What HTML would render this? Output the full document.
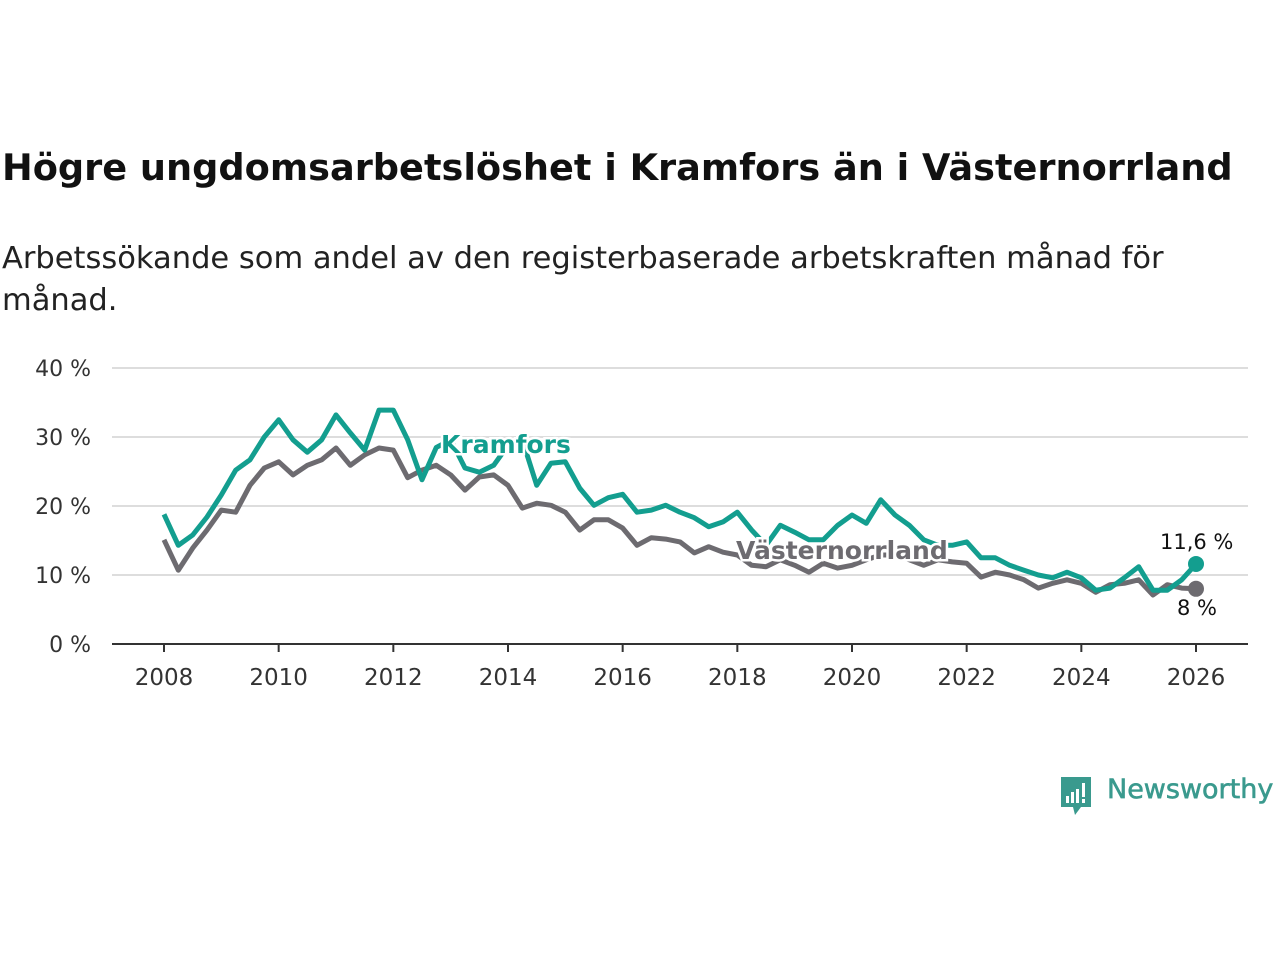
<!DOCTYPE html>
<html><head><meta charset="utf-8"><style>
body{margin:0;background:#fff;width:1280px;height:960px;overflow:hidden;font-family:"DejaVu Sans","Liberation Sans",sans-serif;}
h1{position:absolute;left:2px;top:146px;margin:0;font-size:36.7px;font-weight:bold;color:#111;white-space:nowrap;}
.sub{position:absolute;left:2px;top:238px;margin:0;font-size:30.5px;color:#222;line-height:42px;width:1200px;}
svg{position:absolute;left:0;top:0;}
</style></head><body>
<h1>Högre ungdomsarbetslöshet i Kramfors än i Västernorrland</h1>
<p class="sub">Arbetssökande som andel av den registerbaserade arbetskraften månad för månad.</p>
<svg id="chart" width="1280" height="960"></svg>
<div style="position:absolute;left:1059px;top:775px;">
<svg width="36" height="44" style="position:absolute;left:0;top:0"><path d="M2 2h30v30H22l-6 8-2-8H2z" fill="#3a9a8e"/><rect x="7" y="21" width="3" height="7" fill="#fff"/><rect x="12" y="17" width="3" height="11" fill="#fff"/><rect x="17" y="14" width="3" height="14" fill="#fff"/><rect x="23" y="8" width="3" height="14" fill="#fff"/><rect x="23" y="24" width="3" height="4" fill="#fff"/></svg>
<span style="position:absolute;left:48px;top:-1px;font-size:27px;color:#3a9a8e;white-space:nowrap;-webkit-text-stroke:0.6px #3a9a8e">Newsworthy</span></div>
<script>
const years=[2008,2010,2012,2014,2016,2018,2020,2022,2024,2026];
const yTicks=[0,10,20,30,40];
const kramfors=[18.8,14.3,15.8,18.4,21.6,25.2,26.7,30,32.5,29.6,27.8,29.6,33.2,30.6,28.1,33.9,33.9,29.6,23.8,28.5,29.6,25.5,24.9,25.9,28.8,29.6,23,26.2,26.4,22.6,20.1,21.2,21.7,19.1,19.4,20.1,19.1,18.3,17,17.7,19.1,16.5,14.3,17.2,16.2,15.1,15.1,17.2,18.7,17.5,20.9,18.7,17.2,15.1,14.3,14.3,14.8,12.5,12.5,11.4,10.7,10,9.6,10.4,9.6,7.8,8.1,9.6,11.2,7.8,7.8,9.3,11.6];
const vasternorrland=[15.1,10.7,13.9,16.5,19.4,19.1,23,25.5,26.4,24.5,25.9,26.7,28.4,25.9,27.4,28.4,28.1,24.1,25.2,25.9,24.5,22.3,24.2,24.5,23,19.7,20.4,20.1,19.1,16.5,18,18,16.8,14.3,15.4,15.2,14.8,13.2,14.1,13.3,12.9,11.4,11.2,12.2,11.4,10.4,11.7,11,11.4,12.2,12.9,12.9,12.2,11.4,12.2,11.9,11.7,9.7,10.4,10,9.3,8.1,8.8,9.3,8.8,7.5,8.6,8.8,9.3,7.1,8.6,8.1,8.0];
const NS="http://www.w3.org/2000/svg",svg=document.getElementById('chart');
const X=t=>164+(t-2008)*(1032/18), Y=v=>644-v*6.9;
function el(tag,a){const e=document.createElementNS(NS,tag);for(const k in a)e.setAttribute(k,a[k]);svg.appendChild(e);return e;}
yTicks.forEach(v=>{
 if(v>0){const g=el('line',{x1:112,x2:1248,y1:Y(v),y2:Y(v),stroke:'#ddd','stroke-width':2});
 
 }
 const t=el('text',{x:91,y:Y(v)+8,'text-anchor':'end','font-size':22,fill:'#333'});t.textContent=v+' %';
 
 
});
const ax=el('line',{x1:112,x2:1248,y1:644,y2:644,stroke:'#333','stroke-width':2});


years.forEach(y=>{
 const tk=el('line',{x1:X(y),x2:X(y),y1:644,y2:652,stroke:'#333','stroke-width':2});
 
 
 const t=el('text',{x:X(y),y:685,'text-anchor':'middle','font-size':23,fill:'#333'});t.textContent=y;
 
 
});
function line(d,c,name){const p=d.map((v,i)=>(i?'L':'M')+X(2008+i/4).toFixed(1)+' '+Y(v).toFixed(1)).join('');
 const e=el('path',{d:p,fill:'none',stroke:c,'stroke-width':5,'stroke-linejoin':'round'});
 
 }
line(vasternorrland,'#6d6b70','line-vasternorrland');
line(kramfors,'#139e8f','line-kramfors');
function lab(x,y,txt,c,name,size,bold){const t=el('text',{x:x,y:y,'font-size':size,'font-weight':bold?'bold':'normal',fill:c,stroke:'#fff','stroke-width':5,'paint-order':'stroke'});t.textContent=txt;
 
 }
lab(441,453,'Kramfors','#139e8f','label-kramfors',25,true);
lab(736,559,'Västernorrland','#6d6b70','label-vasternorrland',25,true);
const d1=el('circle',{cx:X(2026),cy:Y(vasternorrland[72]),r:8,fill:'#6d6b70'});


const d2=el('circle',{cx:X(2026),cy:Y(kramfors[72]),r:8,fill:'#139e8f'});


lab(1160,549,'11,6 %','#111','value-label-kramfors',21,false);
lab(1177,615,'8 %','#111','value-label-vasternorrland',21,false);
</script>
</body></html>
